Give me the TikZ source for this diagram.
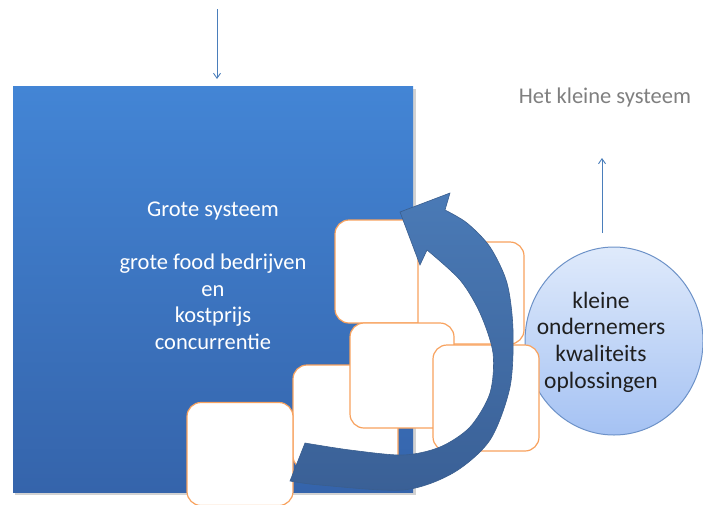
\documentclass[tikz,border=0pt]{standalone}
\usepackage{fontspec}
\setmainfont{Carlito}
\usetikzlibrary{arrows.meta,shapes.geometric}
\definecolor{boxorange}{HTML}{F8A25E}
\definecolor{rtop}{HTML}{4385D5}
\definecolor{rbot}{HTML}{3564AB}
\definecolor{ctop}{HTML}{DFEAFB}
\definecolor{cbot}{HTML}{A5C2F3}
\definecolor{cline}{HTML}{6D92C8}
\definecolor{atop}{HTML}{4A7AB6}
\definecolor{abot}{HTML}{3A6096}
\definecolor{aline}{HTML}{3A5E8E}
\definecolor{thinblue}{HTML}{4A7EBB}
\definecolor{graytext}{HTML}{7F7F7F}
\begin{document}
\begin{tikzpicture}[x=1pt,y=-1pt,
  tile/.style={draw=boxorange, line width=1.2pt, fill=white, rounded corners=14pt,
    inner sep=0pt, outer sep=0pt, rectangle},
  thinarrow/.style={draw=thinblue, line width=0.9pt, -{Straight Barb[length=5pt,width=7pt]}},
  bigtext/.style={font=\fontsize{22.5}{26.5}\selectfont, align=center, inner sep=0pt},
]
\useasboundingbox (0,0) rectangle (703,504);

% big rectangle with shadow
\fill[gray!35] (15,89) rectangle (416,495);
\node[rectangle, top color=rtop, bottom color=rbot, minimum width=400pt,
  minimum height=406pt, inner sep=0pt, outer sep=0pt] (big) at (213,289) {};
\node[bigtext, text=white] (bigtxt) at (213,276)
  {Grote systeem\\[26.5pt]grote food bedrijven\\en\\kostprijs\\concurrentie};

% circle
\node[ellipse, top color=ctop, bottom color=cbot, draw=cline, line width=1pt,
  minimum width=178pt, minimum height=188pt, inner sep=0pt] (small) at (614,341) {};

% tiles
\node[tile, minimum width=105pt, minimum height=103pt] (tA) at (387.5,271.5) {};
\node[tile, minimum width=106pt, minimum height=102pt] (tB) at (471,293) {};
\node[tile, minimum width=105pt, minimum height=105pt] (tE) at (345.5,417.5) {};
\node[tile, minimum width=104pt, minimum height=105pt] (tC) at (402,375.5) {};
\node[tile, minimum width=106pt, minimum height=106pt] (tD) at (486,398) {};
\node[tile, minimum width=106pt, minimum height=103pt] (tF) at (240,454) {};

% curved arrow
\path[top color=atop, bottom color=abot, draw=aline, line width=0.6pt]
  (290,481) -- plot[smooth] coordinates {(290,481) (320,485) (403,490) (453,473)
    (490,440) (510,387) (513,330) (507,283) (490,247) (467,223) (445,210)}
  -- (450,193) -- (400,212) -- (420,265) -- (427,250)
  -- plot[smooth] coordinates {(427,250) (460,280) (480,313) (493,353) (490,393)
    (470,427) (440,447) (403,455) (350,450) (305,443)}
  -- cycle;

% circle text
\node[bigtext, text=black!88, font=\fontsize{23.5}{26.7}\selectfont] (smalltxt) at (601,342)
  {kleine\\ondernemers\\kwaliteits\\oplossingen};

% top label
\node[bigtext, text=graytext] (hks) at (605,97) {Het kleine systeem};

% thin arrows
\coordinate (dtop) at (217,9);
\coordinate (dbot) at (217,79);
\draw[thinarrow] (dtop) -- (dbot);
\coordinate (ubot) at (602,233);
\coordinate (utop) at (602,158);
\draw[thinarrow] (ubot) -- (utop);
\end{tikzpicture}
\end{document}
